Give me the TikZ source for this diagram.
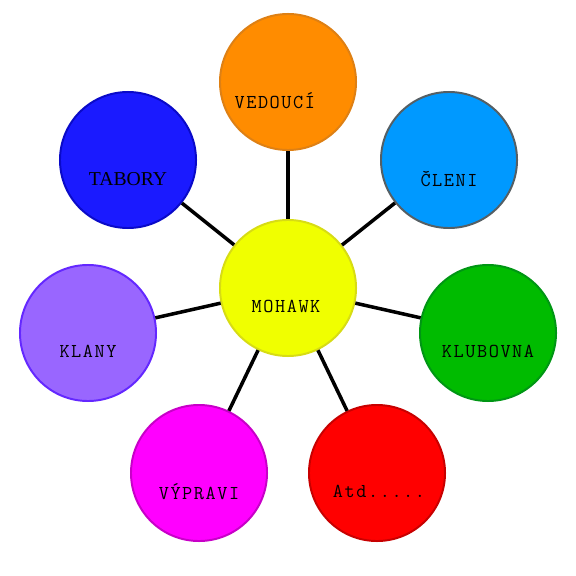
\documentclass[tikz,border=0pt]{standalone}
\usepackage{fontspec}
\newfontfamily\tabfont{Liberation Serif}
\newfontfamily\bubfont[LetterSpace=8]{Latin Modern Mono}
\usetikzlibrary{calc}

\definecolor{ledfill}{RGB}{255,140,0}
\definecolor{leddraw}{RGB}{222,128,20}
\definecolor{clnfill}{RGB}{0,153,255}
\definecolor{clndraw}{RGB}{85,95,100}
\definecolor{tabfill}{RGB}{26,26,255}
\definecolor{tabdraw}{RGB}{10,10,200}
\definecolor{hubfill}{RGB}{240,255,0}
\definecolor{hubdraw}{RGB}{215,220,20}
\definecolor{klafill}{RGB}{153,102,255}
\definecolor{kladraw}{RGB}{100,40,255}
\definecolor{klbfill}{RGB}{0,187,0}
\definecolor{klbdraw}{RGB}{0,150,20}
\definecolor{atdfill}{RGB}{255,0,0}
\definecolor{atddraw}{RGB}{200,0,0}
\definecolor{vypfill}{RGB}{255,0,255}
\definecolor{vypdraw}{RGB}{200,0,200}

\begin{document}
\begin{tikzpicture}[
  x=0.025cm, y=-0.025cm,
  link/.style={line width=2.5pt, black},
  bubble/.style={
    circle, line width=1.4pt, minimum size=3.4cm, inner sep=0pt
  },
  lbl/.style={font=\bubfont\fontsize{14}{16}\selectfont, yshift=-0.47cm}
]

\useasboundingbox (0,0) rectangle (576,576);

% Hub
\node[bubble, fill=hubfill, draw=hubdraw, label={[lbl, xshift=-0.05cm]center:MOHAWK}] (hub) at (288,288) {};

% Outer circles
\node[bubble, fill=ledfill, draw=leddraw, label={[lbl, xshift=-0.33cm]center:VEDOUCÍ}] (led) at (288,82) {};
\node[bubble, fill=clnfill, draw=clndraw, label={[lbl]center:ČLENI}] (cln) at (449,160) {};
\node[bubble, fill=tabfill, draw=tabdraw, label={[lbl, font=\tabfont\fontsize{14}{16}\selectfont]center:TABORY}] (tab) at (128,160) {};
\node[bubble, fill=klafill, draw=kladraw, label={[lbl]center:KLANY}] (kla) at (88,333) {};
\node[bubble, fill=klbfill, draw=klbdraw, label={[lbl]center:KLUBOVNA}] (klb) at (488,333) {};
\node[bubble, fill=vypfill, draw=vypdraw, label={[lbl]center:VÝPRAVI}] (vyp) at (199,473) {};
\node[bubble, fill=atdfill, draw=atddraw, label={[lbl, xshift=0.05cm]center:Atd.....}] (atd) at (377,473) {};

% Spokes
\foreach \n in {led,cln,tab,kla,klb,vyp,atd}
  \draw[link] (hub) -- (\n);

\end{tikzpicture}
\end{document}
